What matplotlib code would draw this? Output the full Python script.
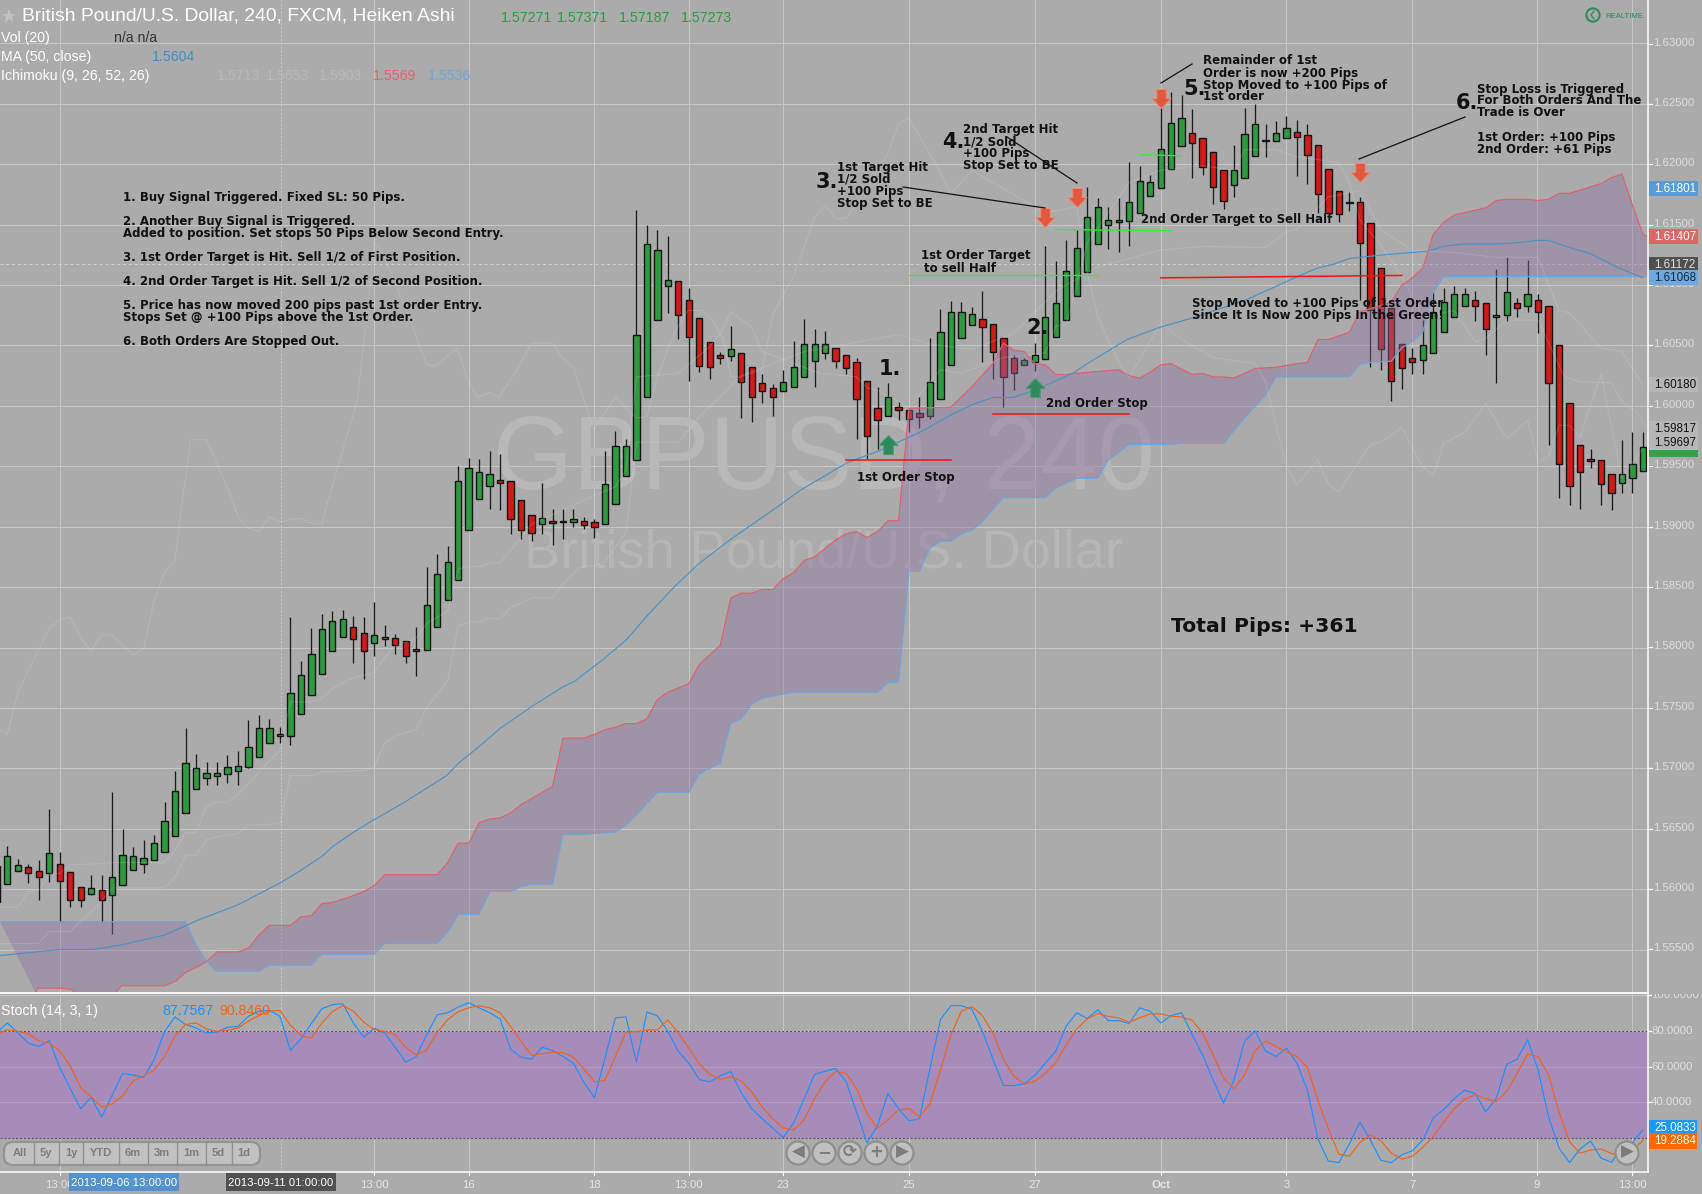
import numpy as np
import matplotlib
matplotlib.use('Agg')
import matplotlib.pyplot as plt
from matplotlib.patches import Circle, FancyBboxPatch, Rectangle
from matplotlib.path import Path

# candles, first one sits at index -1
candle_color = ("ggg" "rr" "g" "rrr" "g" "r" + "g" * 23 + "rr" "gg" "rrr" + "g" * 7 + "rrrr" "g" "r" "gg" "rr" + "g" * 7 + "r" * 5 + "g" + "rrrr" + "g" * 5
                + "r" * 5 + "g" + "rrr" + "g" * 5 + "rrrr" + "g" * 16 + "rrrr" "ggg" "r" "gg" + "r" * 12 + "g" * 5 + "rr" "gg" "r" "g" + "r" * 8 + "ggg")
body_top = [1.5619,1.5627,1.5620,1.5618,1.5615,1.5630,1.5621,1.5614,1.5602,1.5601,1.5599,1.5610,1.5628,1.5627,1.5626,1.5638,
    1.5656,1.5681,1.5704,1.5700,1.5696,1.5696,1.5701,1.5702,1.5718,1.5733,1.5733,1.5728,1.5762,1.5777,1.5795,1.5815,
    1.5822,1.5824,1.5817,1.5812,1.5810,1.5809,1.5808,1.5805,1.5799,1.5835,1.5861,1.5871,1.5938,1.5949,1.5945,1.5944,
    1.5939,1.5938,1.5922,1.5910,1.5907,1.5905,1.5905,1.5906,1.5905,1.5904,1.5935,1.5967,1.5967,1.6059,1.6134,1.6129,
    1.6104,1.6103,1.6088,1.6073,1.6053,1.6042,1.6047,1.6044,1.6032,1.6019,1.6015,1.6020,1.6032,1.6051,1.6051,1.6051,
    1.6048,1.6042,1.6036,1.6021,1.5998,1.6007,1.5999,1.5997,1.5994,1.6020,1.6061,1.6078,1.6078,1.6076,1.6072,1.6068,
    1.6056,1.6040,1.6038,1.6042,1.6074,1.6085,1.6112,1.6131,1.6156,1.6165,1.6154,1.6154,1.6169,1.6186,1.6185,1.6213,
    1.6234,1.6238,1.6226,1.6222,1.6210,1.6195,1.6195,1.6225,1.6233,1.6220,1.6226,1.6230,1.6227,1.6224,1.6216,1.6196,
    1.6178,1.6169,1.6169,1.6151,1.6114,1.6081,1.6051,1.6040,1.6050,1.6078,1.6086,1.6093,1.6093,1.6088,1.6085,1.6075,
    1.6094,1.6085,1.6093,1.6088,1.6083,1.6050,1.6002,1.5968,1.5956,1.5955,1.5944,1.5944,1.5952,1.5966]
body_bot = [1.5589,1.5604,1.5615,1.5613,1.5610,1.5613,1.5607,1.5591,1.5591,1.5596,1.5591,1.5595,1.5603,1.5616,1.5621,1.5624,
    1.5631,1.5644,1.5663,1.5683,1.5692,1.5694,1.5695,1.5698,1.5701,1.5709,1.5721,1.5727,1.5727,1.5745,1.5761,1.5778,
    1.5797,1.5809,1.5807,1.5797,1.5804,1.5807,1.5802,1.5793,1.5797,1.5798,1.5817,1.5839,1.5856,1.5897,1.5923,1.5934,
    1.5936,1.5906,1.5897,1.5895,1.5902,1.5903,1.5904,1.5904,1.5901,1.5900,1.5902,1.5919,1.5942,1.5955,1.6007,1.6071,
    1.6099,1.6075,1.6057,1.6033,1.6032,1.6040,1.6041,1.6020,1.6007,1.6012,1.6007,1.6012,1.6016,1.6024,1.6037,1.6044,
    1.6037,1.6031,1.6006,1.5975,1.5988,1.5992,1.5997,1.5989,1.5991,1.5992,1.6006,1.6034,1.6056,1.6067,1.6065,1.6045,
    1.6024,1.6027,1.6034,1.6036,1.6039,1.6057,1.6071,1.6091,1.6111,1.6134,1.6150,1.6152,1.6153,1.6160,1.6174,1.6180,
    1.6196,1.6215,1.6218,1.6198,1.6181,1.6170,1.6183,1.6189,1.6207,1.6219,1.6219,1.6222,1.6223,1.6208,1.6175,1.6160,
    1.6159,1.6168,1.6135,1.6079,1.6047,1.6021,1.6031,1.6036,1.6038,1.6044,1.6061,1.6074,1.6083,1.6083,1.6064,1.6074,
    1.6075,1.6081,1.6083,1.6078,1.6019,1.5952,1.5934,1.5945,1.5954,1.5935,1.5928,1.5936,1.5940,1.5946]
wick_high = [1.5625,1.5636,1.5625,1.5621,1.5624,1.5666,1.5631,1.5614,1.5602,1.5612,1.5612,1.5680,1.5650,1.5635,1.5641,1.5645,
    1.5672,1.5698,1.5733,1.5712,1.5705,1.5705,1.5711,1.5714,1.5740,1.5744,1.5741,1.5734,1.5825,1.5789,1.5816,1.5828,
    1.5830,1.5831,1.5826,1.5825,1.5838,1.5819,1.5811,1.5805,1.5817,1.5867,1.5877,1.5884,1.5950,1.5957,1.5956,1.5963,
    1.5960,1.5938,1.5922,1.5910,1.5936,1.5915,1.5915,1.5915,1.5908,1.5906,1.5963,1.5979,1.5973,1.6162,1.6150,1.6146,
    1.6141,1.6103,1.6098,1.6073,1.6053,1.6045,1.6066,1.6044,1.6032,1.6026,1.6018,1.6030,1.6054,1.6072,1.6064,1.6062,
    1.6048,1.6042,1.6040,1.6021,1.6016,1.6019,1.6003,1.5997,1.6007,1.6056,1.6080,1.6087,1.6086,1.6082,1.6095,1.6068,
    1.6056,1.6042,1.6040,1.6052,1.6132,1.6120,1.6137,1.6146,1.6181,1.6172,1.6165,1.6172,1.6202,1.6199,1.6191,1.6262,
    1.6260,1.6257,1.6246,1.6222,1.6210,1.6195,1.6216,1.6247,1.6250,1.6233,1.6236,1.6240,1.6237,1.6233,1.6216,1.6196,
    1.6178,1.6177,1.6173,1.6151,1.6114,1.6081,1.6051,1.6048,1.6071,1.6094,1.6098,1.6099,1.6098,1.6095,1.6085,1.6113,
    1.6123,1.6089,1.6121,1.6093,1.6083,1.6050,1.6002,1.5968,1.5964,1.5955,1.5944,1.5972,1.5978,1.5978]
wick_low = [1.5589,1.5604,1.5615,1.5605,1.5591,1.5606,1.5573,1.5585,1.5585,1.5595,1.5573,1.5563,1.5603,1.5616,1.5613,1.5624,
    1.5631,1.5644,1.5663,1.5683,1.5686,1.5686,1.5688,1.5686,1.5700,1.5709,1.5721,1.5721,1.5719,1.5745,1.5761,1.5778,
    1.5797,1.5809,1.5787,1.5774,1.5793,1.5801,1.5795,1.5787,1.5776,1.5798,1.5817,1.5839,1.5856,1.5897,1.5923,1.5915,
    1.5914,1.5894,1.5890,1.5888,1.5894,1.5885,1.5890,1.5900,1.5898,1.5891,1.5902,1.5919,1.5942,1.5955,1.6007,1.6071,
    1.6077,1.6055,1.6021,1.6028,1.6022,1.6035,1.6037,1.5990,1.5987,1.6002,1.5992,1.6012,1.6016,1.6024,1.6016,1.6039,
    1.6031,1.6026,1.5973,1.5956,1.5964,1.5992,1.5988,1.5978,1.5982,1.5989,1.6006,1.6034,1.6056,1.6067,1.6036,1.6022,
    1.5999,1.6013,1.6034,1.6029,1.6039,1.6057,1.6071,1.6091,1.6111,1.6134,1.6130,1.6127,1.6132,1.6160,1.6174,1.6180,
    1.6196,1.6215,1.6189,1.6191,1.6167,1.6163,1.6173,1.6189,1.6207,1.6206,1.6219,1.6222,1.6190,1.6184,1.6160,1.6160,
    1.6152,1.6161,1.6088,1.6032,1.6030,1.6004,1.6014,1.6026,1.6026,1.6044,1.6061,1.6074,1.6083,1.6070,1.6042,1.6019,
    1.6070,1.6074,1.6078,1.6060,1.5968,1.5924,1.5918,1.5915,1.5949,1.5918,1.5914,1.5928,1.5928,1.5946]

# moving average and cloud vertices (candle index, price)
ma_x = [-0.7,5,8.2,11,12,15,17.1,18.1,22,26,27.9,30,31,33,34.9,37.9,41.9,43,45,47,50,52.9,54.1,56.8,59,61.1,63.7,65.9,68.9,70.9,73.7,75.6,80.1,83.2,87,89.9,92,94,95.9,98,101.6,103,106.8,109.9,113.1,118.2,123.3,124.9,126.4,128,131.2,135.4,137,138.8,142.1,144,145.9,147,149,151,153.5,156]
ma_y = [1.5545,1.5550,1.5550,1.5554,1.5556,1.5562,1.5570,1.5574,1.5587,1.5605,1.5615,1.5627,1.5635,1.5647,1.5657,1.5672,1.5694,1.5704,1.5718,1.5733,1.5751,1.5767,1.5772,1.5790,1.5806,1.5827,1.5851,1.5869,1.5889,1.5901,1.5918,1.5930,1.5953,1.5963,1.5978,1.5992,1.6001,1.6007,1.6007,1.6013,1.6027,1.6035,1.6055,1.6065,1.6073,1.6088,1.6108,1.6114,1.6117,1.6122,1.6125,1.6128,1.6132,1.6134,1.6134,1.6135,1.6137,1.6137,1.6131,1.6126,1.6115,1.6106]
cloud_top_x = [2.7,2.9,5.1,6.1,6.5,10.3,10.9,15,16.1,17,18,19,20,22,23,24,25,27,28,29,30,31,32.5,34,35,36,41,42,43,44,45,46,47,48,49,50,51,52,53,55,56,57,58,59,60,61,62,63,65,66,68,69,70,71,72,73,74,75,76,77,78,79,80,81,82,83,84,85,86,90,92,94,95,96,97,98,99,100,101,102,106,107,108,109,110,111,113,114,115,116,117,118,119,121,123,124,125,126,128,129,131,132,133,134,135,136,137,138,141,142,143,145,146,147,148,149,152,153,154,155,156,156.5]
cloud_top_y = [1.5514,1.5518,1.5518,1.5517,1.5514,1.5514,1.5520,1.5520,1.5524,1.5531,1.5535,1.5540,1.5548,1.5548,1.5551,1.5562,1.5570,1.5570,1.5577,1.5578,1.5588,1.5589,1.5593,1.5598,1.5603,1.5612,1.5612,1.5622,1.5638,1.5638,1.5655,1.5658,1.5659,1.5663,1.5670,1.5675,1.5680,1.5685,1.5725,1.5725,1.5728,1.5732,1.5734,1.5737,1.5737,1.5741,1.5757,1.5763,1.5770,1.5786,1.5802,1.5841,1.5845,1.5845,1.5848,1.5848,1.5857,1.5862,1.5872,1.5875,1.5882,1.5889,1.5894,1.5896,1.5891,1.5896,1.5905,1.5905,1.5998,1.5999,1.6016,1.6035,1.6052,1.6046,1.6045,1.6035,1.6034,1.6026,1.6026,1.6027,1.6030,1.6025,1.6023,1.6028,1.6034,1.6035,1.6026,1.6027,1.6024,1.6024,1.6023,1.6027,1.6031,1.6032,1.6035,1.6036,1.6055,1.6055,1.6061,1.6078,1.6083,1.6086,1.6100,1.6106,1.6114,1.6142,1.6152,1.6158,1.6164,1.6170,1.6171,1.6171,1.6170,1.6171,1.6176,1.6176,1.6184,1.6189,1.6192,1.6166,1.6142,1.6140]
cloud_bot_x = [-0.7,17,18,19,20,24,25,29,30,35,36,41,42,43,45,46,48,49,50,52,53,55,56,58,59,60,61,62,63,65,66,67,68,69,70,71,72,75,83,84,85,86,87,88,89,90,91,92,93,94,95,99,100,102,104,105,107,111,112,116,118,120,121,128,129,130,132,133,134,135,136,137,156.5]
cloud_bot_y = [1.5573,1.5573,1.5554,1.5540,1.5532,1.5532,1.5537,1.5537,1.5546,1.5546,1.5555,1.5555,1.5564,1.5579,1.5579,1.5598,1.5598,1.5602,1.5604,1.5604,1.5645,1.5645,1.5646,1.5647,1.5653,1.5661,1.5671,1.5680,1.5680,1.5680,1.5695,1.5700,1.5704,1.5737,1.5741,1.5753,1.5758,1.5763,1.5763,1.5771,1.5771,1.5863,1.5863,1.5882,1.5888,1.5888,1.5894,1.5897,1.5904,1.5914,1.5924,1.5924,1.5932,1.5940,1.5940,1.5955,1.5968,1.5968,1.5969,1.5969,1.5990,1.6009,1.6024,1.6024,1.6034,1.6036,1.6037,1.6048,1.6053,1.6061,1.6094,1.6107,1.6107]

# faint ichimoku lines
lag_x = [-0.7,0,1,3,4,5,6,7,8,9,10,12,13,14,15,16,16.7,17.5,19,21.5,22,23,24,25,26,27,28,29,30,30.6,33.4,35,35.8,37,38.9,40,40.9,42.9,44,44.9,46,46.9,48.9,50,52,53,54,55.9,58,60,61,62,63.6,64.9,66.3,67.3,68.3,69,70,72,73,75,77,78,79,80,84,85,86,87,88.5,90,92,96,99,102,103,104,106,107,110,112,115,119,120,122,123,125,126,127,130,131,133,135,136,137,139,141,143,145,146,147,148,149,150,152,153,154,155,156]
lag_y = [1.5732,1.5728,1.5763,1.5798,1.5816,1.5823,1.5825,1.5808,1.5797,1.5811,1.5810,1.5794,1.5799,1.5839,1.5862,1.5872,1.5922,1.5972,1.5972,1.5922,1.5908,1.5899,1.5896,1.5908,1.5904,1.5906,1.5907,1.5903,1.5902,1.5922,1.6005,1.6135,1.6127,1.6102,1.6060,1.6034,1.6033,1.6048,1.6019,1.6007,1.6011,1.6007,1.6034,1.6052,1.6052,1.6039,1.6032,1.5980,1.6007,1.5990,1.5991,1.6024,1.6060,1.6079,1.6079,1.6071,1.6055,1.6024,1.6024,1.6030,1.6075,1.6108,1.6156,1.6166,1.6155,1.6155,1.6209,1.6234,1.6238,1.6223,1.6201,1.6176,1.6195,1.6175,1.6160,1.6165,1.6110,1.6074,1.6036,1.6023,1.6069,1.6055,1.6040,1.6035,1.6020,1.5949,1.5935,1.5955,1.5935,1.5929,1.5968,1.5970,1.5982,1.5949,1.5943,1.5969,1.5978,1.6002,1.5973,1.5988,1.5954,1.5958,1.5984,1.5984,1.5974,1.6026,1.5982,1.5940,1.5953,1.5965]
conv_x = [-0.7,1,2,3,4.1,5,6,8.8,10,14.9,16,17,18,19,20,21,22,24,26,27,29,30,31,33,35,36,37,39,40,42,43,44,45,46,47,49,50,56,58,59,60,64,67,68,69,71,72,77.5,81,82,83,86,89,91,95,99,100,101,103,105,107,110,114,117,118,121,123,125,127,128,129,131,133,135,138,140,141,143,146,148.5,150,153,154,155.5,156.5]
conv_y = [1.5585,1.5585,1.5598,1.5599,1.5613,1.5613,1.5620,1.5621,1.5622,1.5622,1.5632,1.5647,1.5647,1.5668,1.5672,1.5672,1.5678,1.5697,1.5715,1.5755,1.5755,1.5758,1.5766,1.5775,1.5779,1.5792,1.5801,1.5808,1.5820,1.5830,1.5865,1.5867,1.5867,1.5870,1.5870,1.5891,1.5902,1.5926,1.5933,1.5947,1.6024,1.6027,1.6049,1.6060,1.6078,1.6065,1.6045,1.6027,1.6024,1.6015,1.6013,1.5999,1.6030,1.6027,1.6040,1.6044,1.6066,1.6067,1.6135,1.6160,1.6185,1.6195,1.6199,1.6195,1.6212,1.6212,1.6206,1.6204,1.6201,1.6185,1.6154,1.6133,1.6107,1.6074,1.6079,1.6053,1.6056,1.6071,1.6071,1.6024,1.6020,1.6019,1.6003,1.5994,1.5980]
base_x = [-0.7,3,4,6,8.8,10,15,16,17,18,19,21,22,23,26,27,29,30,34,35,36,37,39,40,42,43,44,45,46,47,48,50,52,53,54.5,56,57,59,60,64,66,70,76,85,88,92,96,100,104,110,114,120,122,123,126,129,131,134,138,142,146,148,149,152,154,156]
base_y = [1.5555,1.5555,1.5565,1.5565,1.5588,1.5601,1.5601,1.5610,1.5628,1.5628,1.5641,1.5645,1.5646,1.5653,1.5654,1.5694,1.5694,1.5697,1.5698,1.5701,1.5721,1.5727,1.5732,1.5750,1.5773,1.5818,1.5821,1.5821,1.5824,1.5824,1.5833,1.5841,1.5841,1.5853,1.5866,1.5868,1.5871,1.5895,1.5970,1.5970,1.5991,1.6025,1.6045,1.6059,1.6051,1.6047,1.6060,1.6095,1.6115,1.6129,1.6132,1.6131,1.6144,1.6146,1.6173,1.6178,1.6146,1.6129,1.6127,1.6123,1.6123,1.6079,1.6077,1.6048,1.6045,1.6017]

# stochastic, per candle
stoch_k = [79,84.5,78.9,73.2,71.3,74.7,59.6,47.7,36.4,43,31.7,44,56.2,55.3,54,63.8,79.8,87.9,83.6,81.7,78.9,79.4,82.1,82.6,88.3,91.1,91.5,88.3,69.1,75.5,84.2,92.5,94.7,95.3,84.5,76.6,81.5,78.9,70.8,62.5,65.7,77.9,89.1,90.2,93.4,95.8,93,90.2,86.8,69.8,65.3,64.2,70.8,69.1,
    65.7,61.9,51.1,42.6,64.7,87.4,87.9,62.5,90.6,88.5,79.8,68.5,61.9,52.8,51.5,54.9,57.2,45.3,36.4,30.8,25.5,20.2,28.5,42,55.7,57.4,59,51.5,34.5,17.2,27,44.9,36.4,29.6,30.8,59,86.4,94.2,94.2,92.1,79.8,64.3,49.4,49.4,50.4,55.1,61.9,68.7,82.8,90.2,87,91.9,85.8,85.8,
    84.2,93,91.1,84.5,88.7,90.2,77.9,66.6,52.5,39.6,52.5,74.3,80,68.7,65.7,70.4,61.9,46.8,19.4,7,6.2,16.6,29,18.9,7.5,6.2,10.6,12.8,18.9,31.3,36,42.1,46.8,44.9,34.7,42.1,61.3,64.2,75.1,58.1,31.7,14.3,6.2,13.8,18.3,8.7,6.4,14.7,17.5,24.7]
stoch_d = [78,80.8,79.8,78.5,74.5,73.2,68.9,60.4,48.1,43,37.4,39.2,43.6,51.9,54.7,58.1,65.7,77.4,83.6,84.5,81.1,79.8,80.4,81.7,85.5,88.7,91.1,91.5,83.2,77.5,76,84.5,90.8,94.3,91.1,84.9,80.8,79.8,77.9,70.8,66.6,69.4,79.2,86.4,90.8,93,94.2,93,90.2,82.6,74.2,66.4,67.2,68.1,
    67.9,65.3,58.7,51.5,52.3,65.7,79.4,79.6,80.6,80.6,86.2,78.9,70.4,61.5,55.7,52.8,54.3,51.9,45.8,37.4,30.8,25.7,24.5,30.2,42.1,51.5,57.4,56.2,47.7,33.6,25.5,30.2,35.8,36.4,31.7,39.2,58.1,77.9,91.1,93.6,88.7,78.9,64.3,54.7,50.2,51.9,56.2,62.3,72.3,81.1,86.8,89.8,88.1,87.4,
    84.9,87.4,89.6,89.6,88.3,87.9,86,78.9,66.6,53.4,47.7,55.3,69.1,74.3,71.3,68.3,65.7,59.6,41.1,25.1,10.9,9.8,17.4,21.7,18.5,11.5,8.1,9.8,14.7,20.8,28.9,36.4,41.7,44.3,42.1,40.2,46.2,56.2,67,65.7,55.3,34.5,17.9,11.5,13.2,13.8,11.3,10,13.2,18.5]

price_ticks = [1.555,1.56,1.565,1.57,1.575,1.58,1.585,1.59,1.595,1.60,1.605,1.61,1.615,1.62,1.625,1.63]
stoch_ticks = [40,60,80,100]
# candle index of each time label
time_tick_idx = [5,14.1,35,44,56,65,74,86,98,110,122,134,145.9,155]
time_tick_lab = ['13:00','','13:00','16','18','13:00','23','25','27','Oct','3','7','9','13:00']

# order levels: (first candle, last candle, price at each end)
target_lines = [(86,104,1.6108,1.6108),(100,111,1.6146,1.6145),(108,112,1.6208,1.6207)]
stop_lines = [(80,90,1.5955,1.5955),(94,107,1.5993,1.5993),(110,133,1.6106,1.6108)]
buy_arrows = [(84,1.5976),(98,1.6023)]
sell_arrows = [(99,1.6148),(102,1.6165),(110,1.6247),(129,1.6185)]

W, H = 1702, 1194
BG = '#ababab'
RIGHT, PANE, BOTTOM = 1648, 993, 1172
plt.rcParams['font.family'] = ['Liberation Sans', 'DejaVu Sans']

fig = plt.figure(figsize=(W / 100, H / 100), dpi=100, facecolor=BG)
ax = fig.add_axes([0, 1 - PANE / H, RIGHT / W, PANE / H], facecolor=BG)
ax2 = fig.add_axes([0, 1 - BOTTOM / H, RIGHT / W, (BOTTOM - PANE) / H], facecolor=BG)
ov = fig.add_axes([0, 0, 1, 1], facecolor='none')
ov.set_xlim(0, W)
ov.set_ylim(H, 0)
ov.axis('off')

x = np.arange(-1, 157)
XLIM = (-0.696, 156.48)
GRID = '#c6c6c6'

for a in (ax, ax2):
    a.set_xlim(*XLIM)
    a.set_xticks([])
    a.set_yticks([])
    for s in a.spines.values():
        s.set_visible(False)
    for t_, lab in zip(time_tick_idx, time_tick_lab):
        if lab:
            a.axvline(t_, color=GRID, lw=0.75, zorder=0)
ax.set_ylim(1.5514, 1.63360)
ax2.set_ylim(0.93, 101.3)
for p in price_ticks:
    ax.axhline(p, color=GRID, lw=0.75, zorder=0)
ax.axvline(26.1, color='#c8c8c8', lw=0.7, ls=(0, (2, 2)), zorder=0)
ax2.axvline(26.1, color='#c8c8c8', lw=0.7, ls=(0, (2, 2)), zorder=0)
ax.axhline(1.61172, color='#d2d2d2', lw=0.7, ls=(0, (3, 3)), zorder=0)

# watermark
ax.text(0.5, 1 - 462 / PANE, 'GBPUSD, 240', transform=ax.transAxes, ha='center', va='center', fontsize=74, color='#b8b8b8', zorder=1)
ax.text(0.5, 1 - 554 / PANE, 'British Pound/U.S. Dollar', transform=ax.transAxes, ha='center', va='center', fontsize=39, color='#b6b6b6', zorder=1)

# candles
up = np.array([c == 'g' for c in candle_color])
tops, bots = np.array(body_top), np.array(body_bot)
ax.vlines(x, wick_low, wick_high, color='#1c1c1c', lw=0.95, zorder=2)
ax.bar(x, tops - bots, bottom=bots, width=0.6, color=np.where(up, '#2f9b41', '#d01b17'), edgecolor='#141414', lw=1, zorder=3)

# cloud sits over the candles
ax.fill(list(cloud_top_x) + list(cloud_bot_x[::-1]), list(cloud_top_y) + list(cloud_bot_y[::-1]), color='#8f6fa3', alpha=0.4, lw=0, zorder=4)
ax.plot(cloud_top_x, cloud_top_y, color='#e0626c', lw=0.85, zorder=5)
ax.plot(cloud_bot_x, cloud_bot_y, color='#6ea6de', lw=0.85, zorder=5)
ax.plot(ma_x, ma_y, color='#4b93c4', lw=0.85, zorder=5)
for lx, ly in ((lag_x, lag_y), (conv_x, conv_y), (base_x, base_y)):
    ax.plot(lx, ly, color='#e6e6e6', lw=0.8, alpha=0.17, zorder=5)

for a, b, p1, p2 in target_lines:
    ax.plot([a, b], [p1, p2], color='#2ff02f', lw=0.9, zorder=6)
for a, b, p1, p2 in stop_lines:
    ax.plot([a, b], [p1, p2], color='#f01414', lw=1.1, zorder=6)

# trade arrows, origin of the marker is the tip
up_m = Path([(0, 0), (1, -1.05), (.5, -1.05), (.5, -2), (-.5, -2), (-.5, -1.05), (-1, -1.05), (0, 0)], closed=True)
dn_m = Path([(0, 0), (1, 1.05), (.5, 1.05), (.5, 2), (-.5, 2), (-.5, 1.05), (-1, 1.05), (0, 0)], closed=True)
for px, py in buy_arrows:
    ax.plot([px], [py], marker=up_m, ms=27.4, color='#2f8a5b', mec='#4e9a74', mew=0.8, zorder=7)
for px, py in sell_arrows:
    ax.plot([px], [py], marker=dn_m, ms=27.4, color='#e0593f', mec='#e98a72', mew=0.8, zorder=7)

# stochastic pane
ax2.axhspan(20, 80, color='#a78bb8', lw=0, zorder=0.5)
for v in stoch_ticks:
    ax2.axhline(v, color='#b49cc4' if v < 80 else GRID, lw=0.75, zorder=0.6)
for v in (20, 80):
    ax2.axhline(v, color='#5e5468', lw=0.8, ls=(0, (2, 1.5)), zorder=1)
ax2.plot(x, stoch_k, color='#1e90ff', lw=0.85, zorder=3)
ax2.plot(x, stoch_d, color='#f0641e', lw=0.85, zorder=4)


def t(px, py, s, color='#111111', size=8.5, weight='bold', ha='left', family='DejaVu Sans', z=10, **kw):
    return ov.text(px, py + 1, s, color=color, fontsize=size, fontweight=weight, ha=ha, va='center', family=family, zorder=z, **kw)


# frame lines
ov.plot([0, RIGHT], [PANE, PANE], color='white', lw=1.3)
ov.plot([0, RIGHT], [BOTTOM, BOTTOM], color='white', lw=1.1)
ov.plot([RIGHT, RIGHT], [0, BOTTOM], color='white', lw=1.1)

# header text
SANS = 'Liberation Sans'
t(22, 15, 'British Pound/U.S. Dollar, 240, FXCM, Heiken Ashi', color='white', size=13.85, weight='normal', family=SANS)
ov.plot([9], [16], marker='*', ms=10, color='#c2c2c2', mew=0)
for px, s in zip([501, 557, 619, 681], ['1.57271', '1.57371', '1.57187', '1.57273']):
    t(px, 17, s, color='#2f9b41', size=10.2, weight='normal', family=SANS)
t(1, 37, 'Vol (20)', color='white', size=10.2, weight='normal', family=SANS)
t(114, 37, 'n/a n/a', color='#333333', size=10.2, weight='normal', family=SANS)
t(1, 56, 'MA (50, close)', color='white', size=10.2, weight='normal', family=SANS)
t(152, 56, '1.5604', color='#3f8fc4', size=10.2, weight='normal', family=SANS)
t(1, 75, 'Ichimoku (9, 26, 52, 26)', color='white', size=10.2, weight='normal', family=SANS)
for px, s, c in zip([217, 266, 319, 373, 428], ['1.5713', '1.5653', '1.5903', '1.5569', '1.5536'],
                    ['#b8b8b8', '#b8b8b8', '#b8b8b8', '#e4626c', '#6ea6de']):
    t(px, 75, s, color=c, size=10.2, weight='normal', family=SANS)
t(1, 1010, 'Stoch (14, 3, 1)', color='white', size=10.2, weight='normal', family=SANS)
t(162, 1010, '87.7567', color='#1e90ff', size=10.2, weight='normal', family=SANS)
t(219, 1010, '90.8460', color='#f0641e', size=10.2, weight='normal', family=SANS)

# realtime badge
ov.add_patch(Circle((1593, 15), 6.6, fc='none', ec='#2e8b57', lw=1.5))
ov.plot([1594, 1591, 1594], [11, 15, 19], color='#2e8b57', lw=0.9)
t(1605, 15, 'REALTIME', color='#2e8b57', size=5.6, weight='normal', family=SANS)

# notes on the left
notes = {196: '1. Buy Signal Triggered. Fixed SL: 50 Pips.', 220: '2. Another Buy Signal is Triggered.',
         232: 'Added to position. Set stops 50 Pips Below Second Entry.', 256: '3. 1st Order Target is Hit. Sell 1/2 of First Position.',
         280: '4. 2nd Order Target is Hit. Sell 1/2 of Second Position.', 304: '5. Price has now moved 200 pips past 1st order Entry.',
         316: 'Stops Set @ +100 Pips above the 1st Order.', 340: '6. Both Orders Are Stopped Out.'}
for py, s in notes.items():
    t(123, py, s)

for px, py, s in [(816, 181, '3.'), (942, 141, '4.'), (879, 368, '1.'), (1026, 327, '2.'), (1183, 88, '5.'), (1456, 102, '6.')]:
    t(px, py, s, size=15)


def block(px, py, lines):
    for i, s in enumerate(lines):
        t(px, py + 12 * i, s)


block(837, 166, ['1st Target Hit', '1/2 Sold', '+100 Pips', 'Stop Set to BE'])
block(963, 129, ['2nd Target Hit', '1/2 Sold', '+100 Pips', 'Stop Set to BE'])
block(1203, 60, ['Remainder of 1st', 'Order is now +200 Pips', 'Stop Moved to +100 Pips of', '1st order'])
block(1477, 88, ['Stop Loss is Triggered', 'For Both Orders And The', 'Trade is Over', '', '1st Order: +100 Pips', '2nd Order: +61 Pips'])
t(921, 255, '1st Order Target')
t(924, 267, 'to sell Half')
t(1141, 218, '2nd Order Target to Sell Half')
t(1046, 403, '2nd Order Stop')
t(857, 476, '1st Order Stop')
t(1192, 303, 'Stop Moved to +100 Pips of 1st Order')
t(1192, 315, 'Since It Is Now 200 Pips In the Green!')
t(1171, 626, 'Total Pips: +361', size=14.7)
for x1, y1, x2, y2 in [(903, 187, 1045, 208), (1007, 137, 1077, 183), (1192, 64, 1161, 83), (1465, 117, 1359, 159)]:
    ov.plot([x1, x2], [y1, y2], color='#111111', lw=0.9)

# price scale
to_py = lambda p: 43.5 + (1.63 - p) * 12080
for p in price_ticks:
    py = to_py(p)
    ov.plot([RIGHT, RIGHT + 4], [py, py], color='white', lw=0.9)
    t(RIGHT + 5, py - 2, f'{p:.5f}', color='#dcdcdc', size=8.2, weight='normal', family=SANS)
tags = [(189, '1.61801', '#5b9bd5', 'white'), (237, '1.61407', '#e06666', 'white'), (265, '1.61172', '#505050', '#e0e0e0'),
        (278, '1.61068', '#6fa8dc', '#102a44'), (385, '1.60180', '#b6b6b6', '#111111'), (429, '1.59817', '#b6b6b6', '#111111'),
        (450, '1.59650', '#33a04a', '#33a04a'), (443, '1.59697', '#b6b6b6', '#111111')]
for i, (py, s, c, tc) in enumerate(tags):
    ov.add_patch(Rectangle((RIGHT + 1, py - 8), 49, 15, fc=c, ec='none', zorder=10 + i))
    t(RIGHT + 6, py - 1, s, color=tc, size=8.4, weight='normal', family=SANS, z=10 + i)

for v in [100, 80, 60, 40]:
    py = 1031 + (80 - v) * 1.783
    ov.plot([RIGHT, RIGHT + 3], [py, py], color='white', lw=0.9)
    t(RIGHT + 3, py - 1, f'{v:.4f}', color='#e0e0e0', size=8.2, weight='normal', family=SANS)
ov.add_patch(Rectangle((RIGHT + 1, 984), 53, 10, fc=BG, ec='none', zorder=11))
for i, (py, s, c) in enumerate([(1128, '25.0833', '#1e96ff'), (1141, '19.2884', '#ff6a00')]):
    ov.add_patch(Rectangle((RIGHT + 1, py - 8), 48, 16, fc=c, ec='none', zorder=20 + i))
    t(RIGHT + 6, py - 1, s, color='white', size=8.4, weight='normal', family=SANS, z=20 + i)

# time axis
for tick, lab in zip(time_tick_idx, time_tick_lab):
    px = 7.3 + 10.485 * tick
    ov.plot([px, px], [BOTTOM, BOTTOM + 3], color='white', lw=0.8)
    t(px, 1184, lab, color='#e4e4e4', size=8.2, weight='bold' if lab == 'Oct' else 'normal', ha='center', family=SANS)
for x0, x1, s, c in [(69, 179, '2013-09-06 13:00:00', '#5592cc'), (226, 336, '2013-09-11 01:00:00', '#505050')]:
    ov.add_patch(Rectangle((x0, BOTTOM + 1), x1 - x0, 18, fc=c, ec='none', zorder=11))
    t((x0 + x1) / 2, 1182, s, color='white', size=8.2, weight='normal', ha='center', family=SANS, z=12)

# range buttons
pill = FancyBboxPatch((8, 1146), 248, 15, boxstyle='round,pad=4,rounding_size=9', fc='#c6c6c6', ec='#8e8e8e', lw=1.6, alpha=0.85, zorder=8)
ov.add_patch(pill)
for d in [34, 59, 83, 119, 148, 177, 206, 232]:
    ov.plot([d, d], [1142, 1165], color='#909090', lw=1, zorder=9)
for cx, s in zip([20, 46, 71, 101, 133, 162, 191, 218, 244], ['All', '5y', '1y', 'YTD', '6m', '3m', '1m', '5d', '1d']):
    t(cx, 1152, s, color='#7d7d7d', size=8, ha='center', family=SANS)

# chart navigation
for cx, s in zip([798, 824, 850, 876, 902, 1627], ['◀', '−', '⟳', '+', '▶', '▶']):
    ov.add_patch(Circle((cx, 1153), 11.5, fc='#c2c2c2', ec='#8c8c8c', lw=1.6, alpha=0.92, zorder=8))
    t(cx, 1151, s, color='#7c7c7c', size=12, ha='center', family='DejaVu Sans')

fig.savefig('out.png', dpi=100, facecolor=BG)
